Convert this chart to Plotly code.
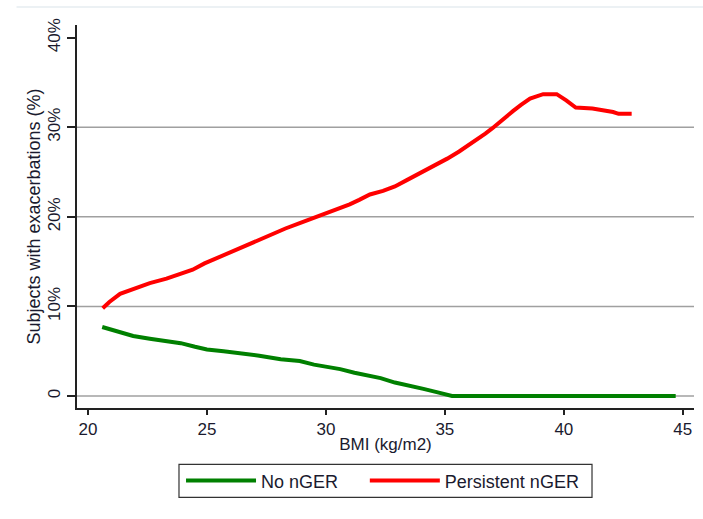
import plotly.graph_objects as go

# ---- data ----
series_names = ["No nGER", "Persistent nGER"]
series_colors = ["#008000", "#ff0000"]

bmi_no = [20.6, 21.2, 21.9, 22.6, 23.3, 23.9, 24.5, 25.0, 25.7, 26.4, 27.2, 28.1,
          28.9, 29.5, 30.0, 30.6, 31.2, 31.8, 32.3, 32.9, 33.5, 34.1, 34.7, 35.3,
          36.0, 38.0, 40.0, 42.0, 44.7]
pct_no = [7.7, 7.2, 6.7, 6.4, 6.1, 5.9, 5.5, 5.2, 5.0, 4.8, 4.5, 4.1,
          3.9, 3.5, 3.3, 3.0, 2.6, 2.3, 2.0, 1.5, 1.2, 0.8, 0.4, 0.0,
          0.0, 0.0, 0.0, 0.0, 0.0]

bmi_pers = [20.62, 20.9, 21.35, 22.0, 22.6, 23.3, 23.87, 24.4, 24.9, 25.6, 26.4,
            27.0, 27.65, 28.3, 28.9, 29.5, 30.05, 30.5, 31.0, 31.4, 31.85, 32.4,
            32.9, 33.4, 33.96, 34.5, 35.1, 35.6, 36.05, 36.48, 36.7, 37.0, 37.3,
            37.86, 38.2, 38.58, 39.13, 39.7, 40.1, 40.5, 41.2, 41.7, 42.07, 42.3, 42.85]
pct_pers = [9.8, 10.5, 11.4, 12.0, 12.6, 13.1, 13.6, 14.1, 14.8, 15.6, 16.5,
            17.2, 18.0, 18.7, 19.3, 19.9, 20.4, 20.9, 21.4, 21.9, 22.5, 22.9,
            23.4, 24.1, 24.9, 25.6, 26.5, 27.3, 28.1, 28.8, 29.3, 29.9, 30.6,
            31.8, 32.5, 33.2, 33.7, 33.7, 33.0, 32.2, 32.1, 31.9, 31.7, 31.5, 31.5]

x_ticks = [20, 25, 30, 35, 40, 45]
y_ticks = [0, 10, 20, 30, 40]
y_tick_labels = ["0", "10%", "20%", "30%", "40%"]
grid_values = [0, 10, 20, 30]

FONT = "Liberation Sans, Arial, sans-serif"
TEXT = "#1a1a2e"

fig = go.Figure()
legend_ids = ["legend", "legend2"]
for name, color, xs, ys, lg in [
    (series_names[0], series_colors[0], bmi_no, pct_no, legend_ids[0]),
    (series_names[1], series_colors[1], bmi_pers, pct_pers, legend_ids[1]),
]:
    fig.add_trace(go.Scatter(x=xs, y=ys, mode="lines", name=name, legend=lg,
                             line=dict(color=color, width=4, shape="linear")))

shapes = []
for g in grid_values:
    shapes.append(dict(type="line", xref="paper", yref="y", x0=0, x1=1, y0=g, y1=g,
                       line=dict(color="#a0a0a0", width=1.5), layer="below"))
# thin separator line at the top of the page
shapes.append(dict(type="line", xref="paper", yref="paper", x0=-0.098, x1=1.02,
                   y0=1.047, y1=1.047, line=dict(color="#e6ecf0", width=1.5)))
# legend frame
shapes.append(dict(type="rect", xref="paper", yref="paper", x0=0.1653, x1=0.8347,
                   y0=-0.2333, y1=-0.1471, line=dict(color="#333333", width=1.2),
                   fillcolor="rgba(0,0,0,0)"))

legend_common = dict(orientation="h", yanchor="middle", y=-0.190, xanchor="left",
                     bgcolor="rgba(0,0,0,0)", borderwidth=0,
                     font=dict(size=18, color=TEXT), itemwidth=70)

fig.update_layout(
    width=703, height=519,
    margin=dict(l=77, r=9, t=25, b=111),
    paper_bgcolor="white", plot_bgcolor="white",
    font=dict(family=FONT, size=17, color=TEXT),
    shapes=shapes,
    showlegend=True,
    legend=dict(x=0.1686, **legend_common),
    legend2=dict(x=0.4665, **legend_common),
    xaxis=dict(range=[19.54, 45.47], tickvals=x_ticks, showgrid=False, zeroline=False,
               showline=True, linecolor="#222222", linewidth=1.5,
               ticks="outside", ticklen=5, tickcolor="#222222", tickwidth=1.5,
               tickfont=dict(size=17),
               title=dict(text="BMI (kg/m2)", standoff=0, font=dict(size=17))),
    yaxis=dict(range=[-1.34, 41.42], tickvals=y_ticks, ticktext=y_tick_labels,
               showgrid=False, zeroline=False,
               showline=True, linecolor="#222222", linewidth=1.5,
               ticks="outside", ticklen=8, tickcolor="#222222", tickwidth=1.5,
               tickangle=-90, tickfont=dict(size=17), ticklabelstandoff=0,
               title=dict(text="Subjects with exacerbations (%)", standoff=0,
                          font=dict(size=18))),
)

fig.write_html("out.html")
